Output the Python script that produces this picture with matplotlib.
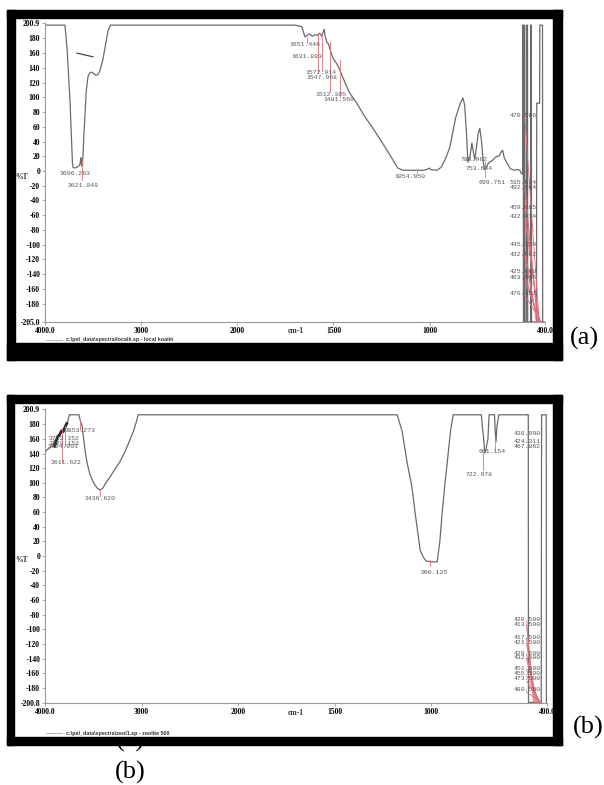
import numpy as np
import matplotlib
matplotlib.use("Agg")
from matplotlib import pyplot as plt
from matplotlib.patches import Rectangle
from matplotlib.lines import Line2D
from matplotlib.transforms import Bbox

W, H = 604, 785

# ---- spectrum (a): local kaolin ----
wn_a = [4000, 3800, 3792, 3770, 3740, 3715, 3709, 3696, 3670, 3657, 3640, 3630, 3626, 3621,
        3612, 3605, 3595, 3584, 3570, 3553, 3540, 3525, 3511, 3490, 3470, 3449, 3430, 3400,
        3370, 3345, 3320,
        1700, 1665, 1655, 1648, 1638, 1625, 1610, 1597, 1585, 1572, 1560, 1552, 1547, 1545,
        1535, 1525, 1519, 1512, 1500, 1481, 1467, 1440, 1420, 1400, 1379, 1340, 1295, 1250,
        1207, 1180, 1165, 1140, 1100, 1066, 1030, 1005, 1000, 995, 962, 940, 920, 905, 895,
        880, 865, 853, 840, 827, 818, 808, 801, 790, 780, 772, 765, 755, 748, 739, 730, 720,
        713, 700, 690, 680, 671, 660, 650, 640, 635, 628, 620, 612, 600, 580, 560, 545, 531,
        522, 516, 515.5, 513, 512, 509, 508, 506, 505, 497, 496, 491, 490, 475, 474, 471,
        470, 444, 443, 428, 427, 413, 412, 400]
t_a = [198, 198, 198, 165, 95, 12, 5, 4, 5, 6, 8, 14, 18, 8,
       6, 20, 50, 76, 110, 128, 132, 134, 134, 132, 130, 131, 136, 150,
       172, 190, 198,
       198, 196, 188, 182, 184, 186, 183, 185, 184, 187, 183, 190, 192, 185,
       175, 172, 166, 160, 152, 145, 137, 120, 108, 100, 92, 75, 58, 40,
       22, 10, 4, 1, 1, 1, 1, 3, 4, 2, 1, 5, 15, 25, 32,
       52, 72, 82, 92, 99, 90, 50, 12, 20, 38, 25, 15, 35, 50, 58, 40, 10,
       2, 8, 12, 13, 15, 18, 20, 20, 22, 26, 28, 18, 12, 3, 1, 2, 1,
       -4, -4, 198, 198, -205, -205, 198, 198, -205, -205, 198, 198, -205, -205, 198, 198,
       -205, -205, 92, 92, 198, 198, -205, -205]
stray_wn_a = [3667, 3600, 3501]
stray_t_a = [160, 158, 155]

# ---- spectrum (b): zeolite 500 ----
wn_b = [4000, 3980, 3950, 3920, 3900, 3880, 3860, 3840, 3820, 3800, 3785, 3772, 3760, 3748,
        3741, 3700, 3648, 3640, 3630, 3617, 3600, 3580, 3565, 3534, 3500, 3482, 3460, 3430,
        3400, 3370, 3326, 3280, 3223, 3170, 3119, 3080, 3050, 3036,
        2000, 1500, 1176, 1150, 1124, 1100, 1083, 1057, 1040, 1025, 995, 969, 955, 943, 930,
        917, 900, 886, 800, 740, 736, 728, 722, 716, 712, 706, 700, 680, 672, 668, 664, 660,
        650, 600, 500, 497, 496, 430, 428, 427, 404, 403, 400]
t_b = [141, 145, 148, 152, 158, 160, 166, 168, 172, 175, 178, 180, 186, 193,
       193, 193, 193, 188, 183, 179, 160, 140, 128, 111, 101, 97, 93, 90,
       93, 100, 108, 118, 129, 143, 159, 172, 185, 193,
       193, 193, 193, 170, 127, 95, 59, 8, -2, -7, -8, -8, 20, 59, 95,
       127, 170, 193, 193, 193, 180, 160, 141, 145, 152, 160, 193, 193, 193, 170, 156, 175,
       193, 193, 193, 193, -200, -200, 193, 193, 193, -200, -200]
scrib_wn_b = [3900, 3870, 3850, 3830, 3810, 3790, 3775]
scrib_t_b = [150, 163, 165, 171, 170, 177, 181]

# peak labels: (label, x, y)
labels_a = [("3696.263", 3688, -4), ("3621.049", 3605, -20),
            ("1651.446", 1649, 172), ("1631.883", 1638, 155),
            ("1572.914", 1565, 134), ("1547.968", 1560, 127),
            ("1512.305", 1513, 104), ("1481.560", 1472, 97),
            ("1054.950", 1103, -8), ("788.962", 770, 15), ("753.644", 744, 4),
            ("699.751", 677, -16)]
ticks_a = [(3615, 15, -12), (1638, 182, 174), (1581, 186, 136), (1560, 186, 136),
           (1519, 175, 107), (1467, 150, 100), (1066, 1, -3), (713, 12, -8)]
right_a = [("470.566", 76), ("515.614", -16), ("492.564", -23), ("459.685", -49),
           ("432.434", -62), ("445.159", -100), ("432.602", -114), ("425.660", -137),
           ("463.546", -145), ("476.457", -166)]
right_a_end = [430, 440, 436, 432, 428, 445, 438, 430, 424, 418]

labels_b = [("3853.273", 3640, 172), ("3753.352", 3803, 160), ("3723.153", 3803, 154),
            ("3704.093", 3810, 149), ("3611.622", 3782, 128), ("3436.620", 3430, 78),
            ("990.135", 984, -22), ("722.978", 751, 111), ("661.154", 684, 143)]
ticks_b = [(3824, 175, 128), (3793, 178, 150), (3637, 186, 172), (3430, 90, 82),
           (1005, -5, -13), (730, 141, 118), (668, 156, 148)]
right_b = [("430.990", 168), ("424.311", 156), ("467.862", 149),
           ("420.500", -87), ("413.500", -94), ("417.500", -111), ("421.500", -118),
           ("429.500", -133), ("432.500", -139), ("451.500", -153), ("455.500", -161),
           ("473.500", -168), ("480.500", -183)]
right_b_end = [None, None, None, 470, 465, 460, 455, 450, 445, 440, 435, 430, 425]

yt_a = [200.9] + list(range(180, -181, -20)) + [-205.0]
yt_b = [200.9] + list(range(180, -181, -20)) + [-200.8]
xt = [4000, 3000, 2000, 1500, 1000, 400]
xtl = ["4000.0", "3000", "2000", "1500", "1000", "400.0"]


def fwd(x):
    x = np.asarray(x, float)
    return np.where(x >= 2000, x, 2 * x - 2000)


def inv(u):
    u = np.asarray(u, float)
    return np.where(u >= 2000, u, (u + 2000) / 2)


def fr(x0, y0, w, h):
    return [x0 / W, 1 - (y0 + h) / H, w / W, h / H]


fig = plt.figure(figsize=(W / 100, H / 100), dpi=100)
fig.patch.set_facecolor("white")

tick_font = dict(family="Liberation Serif", size=5.5, weight="bold")
lab_font = dict(family="Liberation Mono", size=4.6, color="#555555")
red = "#e0707c"
curve = "#6a6a6a"


def setup(ax, yticks, ylo):
    ax.set_xscale("function", functions=(fwd, inv))
    ax.set_xlim(4000, 400)
    ax.set_ylim(ylo, 200.9)
    for s in ["top", "right"]:
        ax.spines[s].set_visible(False)
    for s in ["left", "bottom"]:
        ax.spines[s].set_color("#999999")
        ax.spines[s].set_linewidth(0.8)
    ax.set_xticks(xt)
    ax.set_xticklabels(xtl, **tick_font)
    ax.set_yticks(yticks)
    ax.set_yticklabels([("%.1f" % v) if isinstance(v, float) else str(v) for v in yticks],
                       **tick_font)
    ax.tick_params(axis="both", length=2, width=0.6, color="#999999", pad=1.5)
    ax.patch.set_alpha(0)


def add_labels(ax, labels, ticks, right, right_end, ybot, xr):
    for txt, x, y in labels:
        ax.text(x, y, txt, ha="center", va="center", **lab_font)
    for x, y0, y1 in ticks:
        ax.plot([x, x], [y0, y1], color=red, lw=0.6)
    for (txt, y), xe in zip(right, right_end):
        ax.text(xr, y, txt, ha="left", va="center", **lab_font)
        if xe is not None:
            ax.plot([505, xe], [y - 3, ybot], color=red, lw=0.6)


# panel (a)
ax1 = fig.add_axes(fr(45, 23, 500, 299))
setup(ax1, yt_a, -205.0)
ax1.plot(wn_a, t_a, color=curve, lw=0.9)
ax1.plot(stray_wn_a, stray_t_a, color="#444444", lw=0.9)
add_labels(ax1, labels_a, ticks_a, right_a, right_a_end, -205, 585)

# panel (b)
ax2 = fig.add_axes(fr(45, 409, 502, 294))
setup(ax2, yt_b, -200.8)
ax2.plot(wn_b, t_b, color=curve, lw=0.9)
ax2.plot(scrib_wn_b, scrib_t_b, color="#2a2a2a", lw=2.0)
add_labels(ax2, labels_b, ticks_b, right_b, right_b_end, -200.8, 575)

ax_font = dict(family="Liberation Serif", size=5.5, weight="bold", color="#333333")
fig.text(15 / W, 1 - 177 / H, "%T", ha="left", va="center", **ax_font)
fig.text(15 / W, 1 - 560 / H, "%T", ha="left", va="center", **ax_font)
fig.text(296 / W, 1 - 331 / H, "cm-1", ha="center", va="center", **ax_font)
fig.text(296 / W, 1 - 713 / H, "cm-1", ha="center", va="center", **ax_font)

leg_font = dict(family="Liberation Sans", size=3.9, weight="bold", color="#333333")
for y, txt in [(340, r"c:\pel_data\spectra\localk.sp - local koalin"),
               (733, r"c:\pel_data\spectra\zeol1.sp - zeolite 500")]:
    fig.add_artist(Line2D([46 / W, 62 / W], [1 - y / H] * 2, color="#aaaaaa", lw=0.6,
                          transform=fig.transFigure))
    fig.text(66 / W, 1 - y / H, txt, ha="left", va="center", **leg_font)

# black frames
for (x0, y0, x1, y1), (tl, tt, tr, tb) in [((7, 10, 562, 360), (8, 8, 9, 17)),
                                           ((7, 395, 562, 745), (7, 8, 9, 8))]:
    for rx, ry, rw, rh in [(x0, y0, tl, y1 - y0), (x0, y0, x1 - x0, tt),
                           (x1 - tr, y0, tr, y1 - y0), (x0, y1 - tb, x1 - x0, tb)]:
        fig.add_artist(Rectangle((rx / W, 1 - (ry + rh) / H), rw / W, rh / H,
                                 transform=fig.transFigure, color="black", zorder=10))

big = dict(family="Liberation Serif", size=19, color="black")
fig.text(570 / W, 1 - 338 / H, "(a)", ha="left", va="center", **big)
fig.text(573 / W, 1 - 727 / H, "(b)", ha="left", va="center", **big)
# caption left over from the source page, mostly hidden behind panel (b)
hidden = fig.text(130 / W, 1 - 747 / H, "(a)", ha="center", va="baseline", **big)
hidden.set_clip_box(Bbox([[0, 0], [W, H - 745]]))
hidden.set_clip_on(True)
fig.text(130 / W, 1 - 772 / H, "(b)", ha="center", va="center", **big)

fig.savefig("out.png", dpi=100)
